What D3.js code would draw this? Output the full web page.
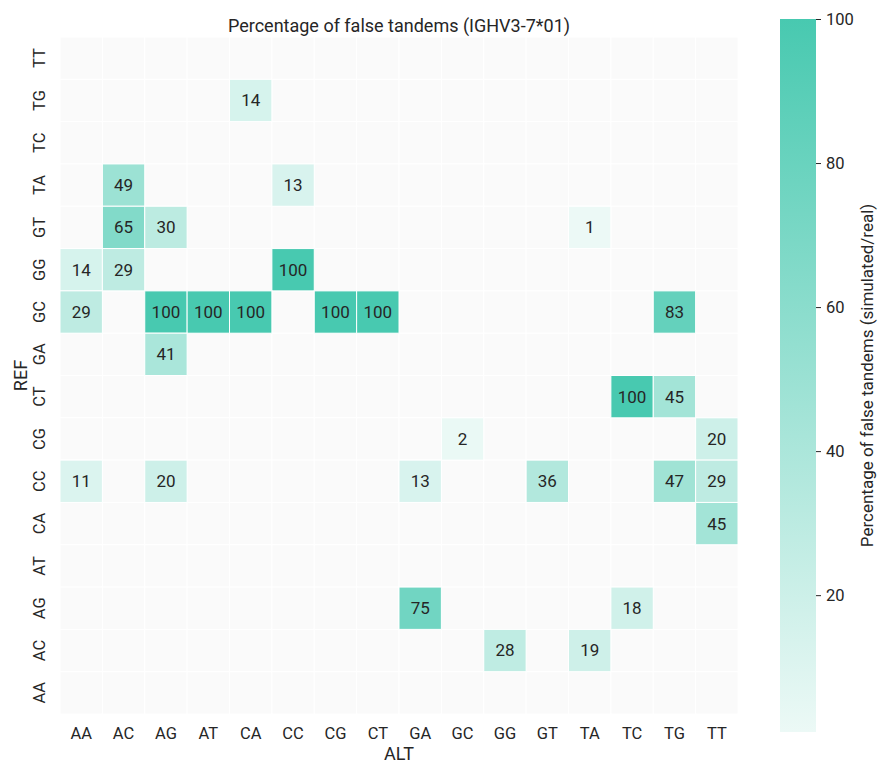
<!DOCTYPE html>
<html>
<head>
<meta charset="utf-8">
<script src="https://cdn.jsdelivr.net/npm/d3@7"></script>
<style>
  body { margin: 0; background: #fff; }
  text { font-family: Roboto, "Noto Sans", sans-serif; fill: #262626; }
</style>
</head>
<body>
<svg id="chart" width="881" height="764"></svg>
<script>
// categories
var altCats = ["AA", "AC", "AG", "AT", "CA", "CC", "CG", "CT", "GA", "GC", "GG", "GT", "TA", "TC", "TG", "TT"];
var refCats = ["TT", "TG", "TC", "TA", "GT", "GG", "GC", "GA", "CT", "CG", "CC", "CA", "AT", "AG", "AC", "AA"];

// non-empty cells: [ref, alt, value]
var cellRef = ["TG", "TA", "TA", "GT", "GT", "GT", "GG", "GG", "GG", "GC", "GC", "GC", "GC", "GC", "GC", "GC", "GA", "CT", "CT", "CG", "CG", "CC", "CC", "CC", "CC", "CC", "CC", "CA", "AG", "AG", "AC", "AC"];
var cellAlt = ["CA", "AC", "CC", "AC", "AG", "TA", "AA", "AC", "CC", "AA", "AG", "AT", "CA", "CG", "CT", "TG", "AG", "TC", "TG", "GC", "TT", "AA", "AG", "GA", "GT", "TG", "TT", "TT", "GA", "TC", "GG", "TA"];
var cellVal = [14, 49, 13, 65, 30, 1, 14, 29, 100, 29, 100, 100, 100, 100, 100, 83, 41, 100, 45, 2, 20, 11, 20, 13, 36, 47, 29, 45, 75, 18, 28, 19];

var cbTicks = [20, 40, 60, 80, 100];

var svg = d3.select("#chart");
var margin = {top: 37, left: 60};
var width = 678, height = 677;

var x = d3.scaleBand().domain(altCats).range([margin.left, margin.left + width]);
var y = d3.scaleBand().domain(refCats).range([margin.top, margin.top + height]);

var vmin = d3.min(cellVal), vmax = d3.max(cellVal);
var color = d3.scaleLinear()
  .domain([vmin, vmax])
  .range(["#ecf9f6", "#48c9b0"]);

// background grid of empty cells
var all = [];
refCats.forEach(function (r) {
  altCats.forEach(function (a) { all.push({ref: r, alt: a}); });
});

svg.append("g").selectAll("rect")
  .data(all).enter()
  .append("rect")
  .attr("x", d => x(d.alt))
  .attr("y", d => y(d.ref))
  .attr("width", x.bandwidth())
  .attr("height", y.bandwidth())
  .attr("fill", "#fafafa")
  .attr("stroke", "#fff")
  .attr("stroke-width", 1);

var cells = cellVal.map(function (v, i) { return {ref: cellRef[i], alt: cellAlt[i], value: v}; });

var cg = svg.append("g");
cg.selectAll("rect")
  .data(cells).enter()
  .append("rect")
  .attr("x", d => x(d.alt))
  .attr("y", d => y(d.ref))
  .attr("width", x.bandwidth())
  .attr("height", y.bandwidth())
  .attr("fill", d => color(d.value))
  .attr("stroke", "#fff")
  .attr("stroke-width", 1);

cg.selectAll("text")
  .data(cells).enter()
  .append("text")
  .attr("x", d => x(d.alt) + x.bandwidth() / 2)
  .attr("y", d => y(d.ref) + y.bandwidth() / 2)
  .attr("text-anchor", "middle")
  .attr("dy", "0.35em")
  .style("font-size", "17px")
  .text(d => d.value);

// axes
var xAxis = svg.append("g")
  .attr("transform", "translate(0," + (margin.top + height) + ")")
  .call(d3.axisBottom(x).tickSize(0).tickPadding(0));
xAxis.select(".domain").remove();
xAxis.selectAll("text")
  .style("font-size", "16.5px")
  .attr("fill", "#262626")
  .attr("y", 25).attr("dy", 0);

var yAxis = svg.append("g")
  .attr("transform", "translate(" + margin.left + ",0)")
  .call(d3.axisLeft(y).tickSize(0).tickPadding(0));
yAxis.select(".domain").remove();
yAxis.selectAll("text")
  .style("font-size", "16.5px")
  .attr("fill", "#262626")
  .attr("text-anchor", "middle")
  .attr("x", 0).attr("dy", 0)
  .attr("transform", "translate(-15,0) rotate(-90)");

svg.append("text")
  .attr("x", margin.left + width / 2)
  .attr("y", 760)
  .attr("text-anchor", "middle")
  .style("font-size", "18px")
  .text("ALT");

svg.append("text")
  .attr("transform", "translate(27," + (margin.top + height / 2) + ") rotate(-90)")
  .attr("text-anchor", "middle")
  .style("font-size", "18px")
  .text("REF");

svg.append("text")
  .attr("x", margin.left + width / 2)
  .attr("y", 32)
  .attr("text-anchor", "middle")
  .style("font-size", "18px")
  .text("Percentage of false tandems (IGHV3-7*01)");

// colorbar
var cbX = 780, cbW = 36, cbTop = 19, cbBottom = 732;
var cy = d3.scaleLinear().domain([vmin, vmax]).range([cbBottom, cbTop]);

var grad = svg.append("defs").append("linearGradient")
  .attr("id", "cbgrad")
  .attr("x1", 0).attr("y1", 1).attr("x2", 0).attr("y2", 0);
grad.append("stop").attr("offset", "0%").attr("stop-color", color(vmin));
grad.append("stop").attr("offset", "100%").attr("stop-color", color(vmax));

svg.append("rect")
  .attr("x", cbX).attr("y", cbTop)
  .attr("width", cbW).attr("height", cbBottom - cbTop)
  .attr("fill", "url(#cbgrad)");

var cbAxis = svg.append("g")
  .attr("transform", "translate(" + (cbX + cbW) + ",0)")
  .call(d3.axisRight(cy).tickValues(cbTicks).tickSize(5).tickPadding(5));
cbAxis.select(".domain").remove();
cbAxis.selectAll("line").attr("stroke", "#262626");
cbAxis.selectAll("text").style("font-size", "16.5px").attr("fill", "#262626");

svg.append("text")
  .attr("transform", "translate(873," + ((cbTop + cbBottom) / 2) + ") rotate(-90)")
  .attr("text-anchor", "middle")
  .style("font-size", "17px")
  .text("Percentage of false tandems (simulated/real)");
</script>
</body>
</html>
